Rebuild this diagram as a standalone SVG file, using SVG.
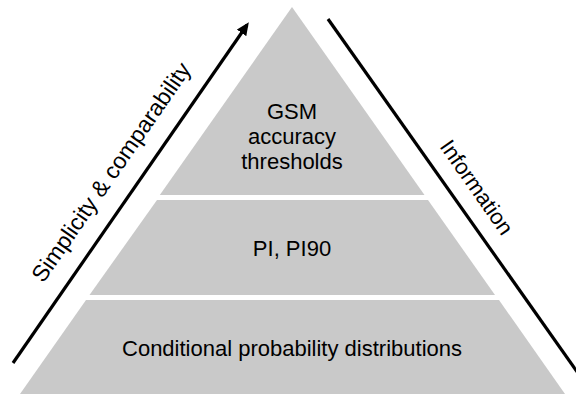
<svg xmlns="http://www.w3.org/2000/svg" width="576" height="394" viewBox="0 0 576 394">
  <style>
    .tier { fill: #c9c9c9; }
    .lbl { font-family: "Liberation Sans", Arial, sans-serif; font-size: 22px; fill: #000; text-anchor: middle; }
    .axis { stroke: #000; stroke-width: 3.2; fill: none; }
  </style>
  <defs>
    <marker id="arrowhead" markerWidth="4" markerHeight="3.6" refX="3" refY="1.8" orient="auto" markerUnits="strokeWidth">
      <path d="M0,0 L4,1.8 L0,3.6 Z" fill="#000"/>
    </marker>
  </defs>
  <rect width="576" height="394" fill="#fff"/>

  <!-- pyramid tiers -->
  <g id="tier-top">
    <polygon class="tier" points="292,7 424.5,195 159.8,195"/>
    <text class="lbl" x="292" y="119">GSM</text>
    <text class="lbl" x="292" y="144">accuracy</text>
    <text class="lbl" x="292" y="169">thresholds</text>
  </g>
  <g id="tier-middle">
    <polygon class="tier" points="157,200 428,200 495,295 89.5,295"/>
    <text class="lbl" x="292" y="256">PI, PI90</text>
  </g>
  <g id="tier-bottom">
    <polygon class="tier" points="86,300 499,300 565,394 20,394"/>
    <text class="lbl" x="292" y="356">Conditional probability distributions</text>
  </g>

  <!-- side axes -->
  <g id="connectors">
    <line class="axis" x1="13" y1="363" x2="247" y2="25" marker-end="url(#arrowhead)"/>
    <line class="axis" x1="328" y1="19" x2="578" y2="373"/>
  </g>

  <g id="label-simplicity">
    <text class="lbl" style="font-size:23px" transform="translate(111,172) rotate(-55.3)" x="0" y="8">Simplicity &amp; comparability</text>
  </g>
  <g id="label-information">
    <text class="lbl" transform="translate(477,187) rotate(55)" x="0" y="8">Information</text>
  </g>
</svg>
